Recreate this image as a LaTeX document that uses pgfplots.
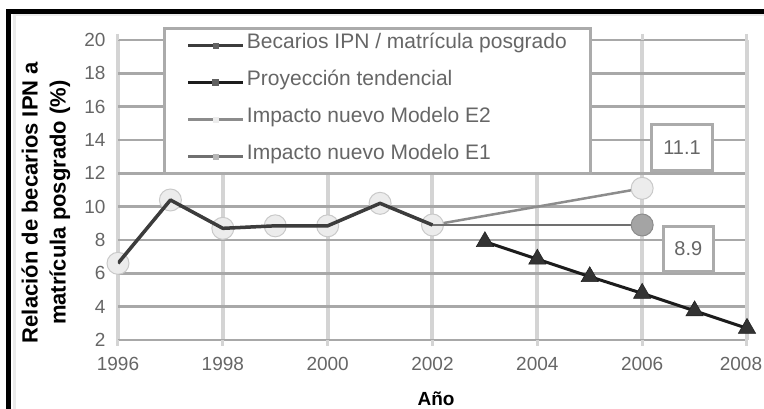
\documentclass[border=0pt]{standalone}
\usepackage{pgfplots}
\pgfplotsset{compat=1.18}
\usepackage{fontspec}
\setmainfont{Liberation Sans}

\definecolor{gridh}{HTML}{A8A8A8}
\definecolor{gridv}{HTML}{D4D4D4}
\definecolor{boxline}{HTML}{ABABAB}
\definecolor{serA}{HTML}{3C3C3C}
\definecolor{serP}{HTML}{1C1C1C}
\definecolor{serE2}{HTML}{8C8C8C}
\definecolor{serE1}{HTML}{707070}
\definecolor{markE2}{HTML}{ECECEC}
\definecolor{markE1}{HTML}{A4A4A4}
\definecolor{txt}{HTML}{666666}

\pgfplotsset{
  sample/.style={legend image code/.code={%
    \draw[mark repeat=2,mark phase=2,##1] plot coordinates {(0pt,0pt) (27.5pt,0pt) (55pt,0pt)};}},
}

\begin{document}
\begin{tikzpicture}
\begin{axis}[
  at={(0pt,0pt)}, anchor=south west,
  scale only axis, width=629pt, height=300pt,
  xmin=1996, xmax=2008, ymin=2, ymax=20,
  xtick={1996,1998,...,2006}, ytick={2,4,...,20},
  extra x ticks={2008},
  extra x tick style={grid=major, xticklabel style={xshift=-6pt}},
  /pgf/number format/1000 sep={},
  /pgf/number format/assume math mode=true,
  tick label style={font=\fontsize{19}{22}\selectfont, text=txt},
  xticklabel style={yshift=-8pt},
  yticklabel style={xshift=-3pt},
  grid=major,
  x grid style={gridv, line width=4pt},
  y grid style={gridh, line width=2.5pt},
  axis line style={draw=none},
  xtick style={gridv, line width=3pt},
  ytick style={draw=none},
  tick align=outside, major tick length=6pt,
  clip mode=individual,
  xlabel={Año},
  xlabel style={at={(axis description cs:0.5056,-0.1967)}, anchor=center,
    font=\fontsize{19}{22}\selectfont\bfseries},
  ylabel={Relación de becarios IPN a\\matrícula posgrado (\%)},
  ylabel style={at={(axis description cs:-0.1145,0.458)}, anchor=center,
    align=center, font=\fontsize{22}{28}\selectfont\bfseries},
  legend style={at={(0.0715,1.0433)}, anchor=north west,
    draw=boxline, line width=3pt, fill=white,
    inner xsep=22pt, inner ysep=7.5pt, row sep=18pt,
    font=\fontsize{21}{24}\selectfont, text=txt,
    nodes={text height=12pt, text depth=7pt, inner ysep=0pt}},
  legend cell align=left,
]
% Model E2 scenario: historical values, then rise to 2006
\addplot[serE2, line width=2.5pt, mark=*, mark size=11pt,
  mark options={fill=markE2, draw=markE2!85!black, line width=1pt}, forget plot]
  coordinates {(1996,6.6) (1997,10.4) (1998,8.7) (1999,8.85) (2000,8.85)
               (2001,10.2) (2002,8.9) (2006,11.1)};
% Model E1 scenario: flat to 2006
\addplot[serE1, line width=2.5pt, mark=*, mark indices={2}, mark size=11pt,
  mark options={fill=markE1, draw=markE1!85!black, line width=1pt}, forget plot]
  coordinates {(2002,8.9) (2006,8.9)};
% Observed ratio
\addplot[serA, line width=3.5pt, line join=round, forget plot]
  coordinates {(1996,6.6) (1997,10.4) (1998,8.7) (1999,8.85) (2000,8.85)
               (2001,10.2) (2002,8.9)};
% Trend projection
\addplot[serP, line width=3pt, mark=triangle*, mark size=10pt,
  mark options={fill=serP!90!white, draw=serP, line width=0.5pt}, forget plot]
  coordinates {(2003,7.9) (2004,6.85) (2005,5.8) (2006,4.8) (2007,3.75) (2008,2.7)};

\addlegendimage{sample, serA, line width=3pt, mark=square*, mark size=2.5pt,
  mark options={fill=serA!80!white, draw=serA!80!white, line width=0.5pt}}
\addlegendentry{Becarios IPN / matrícula posgrado}
\addlegendimage{sample, serP, line width=3.5pt, mark=square*, mark size=3pt,
  mark options={fill=serP!70!white, draw=serP!70!white, line width=0.5pt}}
\addlegendentry{Proyección tendencial}
\addlegendimage{sample, serE2, line width=2.5pt, mark=square*, mark size=2.5pt,
  mark options={fill=markE2, draw=markE2, line width=0.5pt}}
\addlegendentry{Impacto nuevo Modelo E2}
\addlegendimage{sample, serE1, line width=2.5pt, mark=square*, mark size=2.5pt,
  mark options={fill=markE1!80!white, draw=markE1!80!white, line width=0.5pt}}
\addlegendentry{Impacto nuevo Modelo E1}

% value call-outs for the 2006 scenario points
\node[draw=boxline, line width=3pt, fill=white, minimum width=61pt, minimum height=46pt,
  inner sep=0pt, font=\fontsize{20}{24}\selectfont, text=txt]
  at (axis cs:2006.76,13.55) {11.1};
\node[draw=boxline, line width=3pt, fill=white, minimum width=50pt, minimum height=45pt,
  inner sep=0pt, font=\fontsize{20}{24}\selectfont, text=txt]
  at (axis cs:2006.88,7.46) {8.9};
\end{axis}
% outer frame
\draw[black!8, line width=3pt] (-103.5pt,-90pt) -- (-103.5pt,325pt) -- (680pt,325pt);
\draw[black, line width=5pt] (-109pt,-90pt) -- (-109pt,328pt) -- (680pt,328pt);
\pgfresetboundingbox
\useasboundingbox (-118pt,-69pt) rectangle (646pt,340pt);
\end{tikzpicture}
\end{document}
